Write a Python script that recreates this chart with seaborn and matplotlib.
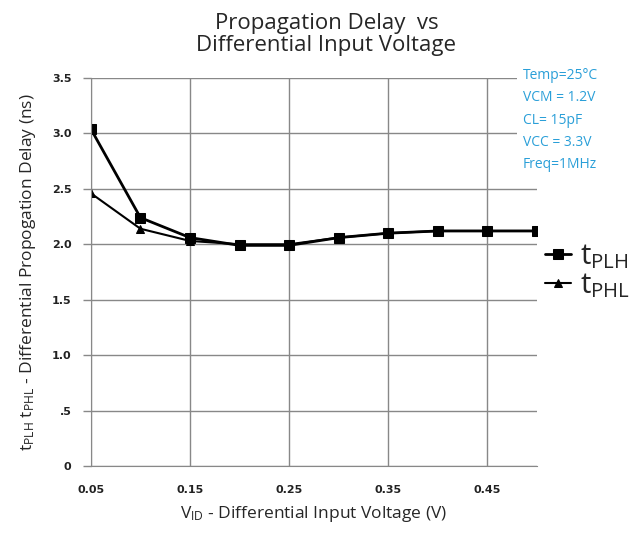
import seaborn as sns
import matplotlib.pyplot as plt
import pandas as pd

# data
vid = [0.05, 0.10, 0.15, 0.20, 0.25, 0.30, 0.35, 0.40, 0.45, 0.50]
t_plh = [3.04, 2.24, 2.06, 1.99, 1.99, 2.06, 2.10, 2.12, 2.12, 2.12]
t_phl = [2.46, 2.14, 2.03, 2.00, 2.00, 2.06, 2.10, 2.12, 2.12, 2.12]
x_ticks = [0.05, 0.15, 0.25, 0.35, 0.45]
y_ticks = [0, 0.5, 1.0, 1.5, 2.0, 2.5, 3.0, 3.5]
y_tick_labels = ["0", ".5", "1.0", "1.5", "2.0", "2.5", "3.0", "3.5"]
conditions = ["Temp=25°C", "VCM = 1.2V", "CL= 15pF", "VCC = 3.3V", "Freq=1MHz"]

sns.set_style("white")
plt.rcParams['font.family'] = ['Open Sans', 'DejaVu Sans']
plt.rcParams['mathtext.default'] = 'regular'

df = pd.DataFrame({"vid": vid, "plh": t_plh, "phl": t_phl})

fig = plt.figure(figsize=(6.4, 5.33), dpi=100)
ax = fig.add_axes([0.142, 0.1257, 0.697, 0.728])

sns.lineplot(data=df, x="vid", y="phl", ax=ax, color="black", marker="^",
             markersize=6, markeredgecolor="black", linewidth=1.5, label="t$_{PHL}$")
sns.lineplot(data=df, x="vid", y="plh", ax=ax, color="black", marker="s",
             markersize=7, markeredgecolor="black", linewidth=2.0, label="t$_{PLH}$")

ax.set_xlim(0.05, 0.50)
ax.set_ylim(0, 3.5)
ax.set_xticks(x_ticks)
ax.set_xticklabels([f"{v:.2f}" for v in x_ticks], fontsize=8, fontweight="bold",
                   family="DejaVu Sans", color="#222222")
ax.set_yticks(y_ticks)
ax.set_yticklabels(y_tick_labels, fontsize=8, fontweight="bold",
                   family="DejaVu Sans", color="#222222")
ax.tick_params(axis="x", length=0, pad=14)
ax.tick_params(axis="y", which="major", direction="out", length=6, width=1,
               color="#888888", pad=8, left=True)
ax.grid(True, color="#888888", linewidth=1)
for s in ["top", "right"]:
    ax.spines[s].set_visible(False)
ax.spines["left"].set_color("#888888")
ax.spines["bottom"].set_color("#888888")

ax.set_xlabel("V$_{ID}$ - Differential Input Voltage (V)", fontsize=12.5, labelpad=6)
ax.set_ylabel("t$_{PLH}$ t$_{PHL}$ - Differential Propogation Delay (ns)",
              fontsize=12.5, labelpad=10)
fig.suptitle("Propagation Delay  vs\nDifferential Input Voltage", fontsize=16,
             x=0.51, y=0.975, linespacing=1.05)

fig.text(0.817, 0.872, "\n".join(conditions), color="#2a9fd8", fontsize=10,
         va="top", ha="left", linespacing=1.65,
         bbox=dict(facecolor="white", edgecolor="none", pad=4))

handles, labels = ax.get_legend_handles_labels()
ax.get_legend().remove()
fig.legend(handles[::-1], labels[::-1], loc="upper left",
           bbox_to_anchor=(0.81, 0.595), frameon=False, fontsize=21,
           handlelength=0.9, handletextpad=0.3, labelspacing=0.0)

fig.savefig("out.png", dpi=100)
